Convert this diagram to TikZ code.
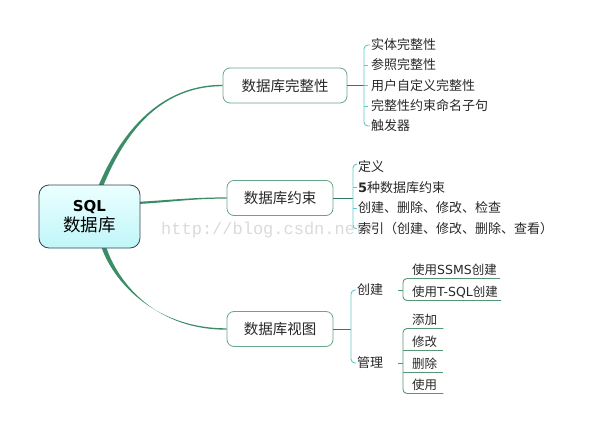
\documentclass[tikz,border=0pt]{standalone}
\usepackage{fontspec}
\setmainfont{Noto Sans CJK SC}
\newfontfamily\latinf{DejaVu Sans}
\newfontfamily\wmf{Liberation Mono}
\usetikzlibrary{calc,backgrounds}
\definecolor{branchc}{RGB}{61,140,104}
\definecolor{boxline}{RGB}{105,165,135}
\definecolor{linkc}{RGB}{45,125,95}
\definecolor{brkc}{RGB}{95,200,200}
\definecolor{ulc}{RGB}{85,150,118}
\definecolor{txt}{RGB}{40,40,40}
\definecolor{rootline}{RGB}{45,70,85}
\definecolor{rtop}{RGB}{235,255,255}
\definecolor{rbot}{RGB}{192,246,249}
\definecolor{wmc}{RGB}{218,218,218}
\begin{document}
\begin{tikzpicture}[x=1pt,y=-1pt,
  rootbox/.style={draw=rootline, line width=0.8pt, rounded corners=10pt,
    top color=rtop, bottom color=rbot, minimum width=101pt, minimum height=63pt,
    align=center, inner sep=0pt, text=black, font=\fontsize{17.5}{20}\selectfont},
  topic/.style={draw=boxline, line width=0.8pt, rounded corners=7pt, fill=white,
    text=txt, font=\fontsize{14.5}{16}\selectfont, minimum height=35pt, inner sep=0pt},
  leaf/.style={anchor=west, inner sep=0pt, text=txt, font=\fontsize{13}{15}\selectfont},
  leafs/.style={leaf, font=\fontsize{12.5}{14}\selectfont},
  brk/.style={draw=brkc, line width=0.9pt, rounded corners=4pt},
  lnk/.style={draw=linkc, line width=1pt},
  ul/.style={draw=ulc, line width=0.9pt, rounded corners=4pt},
  wm/.style={anchor=west, inner sep=0pt, text=wmc, font=\wmf\fontsize{17}{17}\selectfont}
]
\useasboundingbox (0,0) rectangle (603,434);

% nodes
\node[rootbox] (root) at (89.5,216.5) {{\latinf\bfseries\fontsize{15}{17}\selectfont SQL}\\数据库};
\node[topic, minimum width=124pt] (b1) at (285,85.5) {数据库完整性};
\node[topic, minimum width=106pt] (b2) at (280,198) {数据库约束};
\node[topic, minimum width=106pt] (b3) at (280,329) {数据库视图};

\node[leaf] (c11) at (371,45) {实体完整性};
\node[leaf] (c12) at (371,65) {参照完整性};
\node[leaf] (c13) at (371,85.5) {用户自定义完整性};
\node[leaf] (c14) at (371,106) {完整性约束命名子句};
\node[leaf] (c15) at (371,126) {触发器};

\node[leaf] (c21) at (358,167) {定义};
\node[leaf] (c22) at (358,187.5) {{\latinf\bfseries 5}种数据库约束};
\node[leaf] (c23) at (358,208) {创建、删除、修改、检查};
\node[leaf] (c24) at (358,229) {索引（创建、修改、删除、查看）};

\node[leaf] (c31) at (357,290) {创建};
\node[leaf] (c32) at (357,363) {管理};

\node[leafs] (d11) at (412,270) {使用{\latinf SSMS}创建};
\node[leafs] (d12) at (412,292) {使用{\latinf T-SQL}创建};
\node[leafs] (d21) at (412,320) {添加};
\node[leafs] (d22) at (412,342) {修改};
\node[leafs] (d23) at (412,363.5) {删除};
\node[leafs] (d24) at (412,385) {使用};

\begin{scope}[on background layer]
\node[wm] (wmark) at (161,230) {http://blog.csdn.net/};

% main tapered branches
\coordinate (s1) at ($(root.north)+(11,2)$);
\coordinate (e1) at (b1.west);
\fill[branchc] ($(s1)+(-2.4,0)$) .. controls ($(s1)+(13.1,-37)$) and ($(e1)+(-73,-0.7)$) .. ($(e1)+(0,-0.7)$)
  -- ($(e1)+(0,0.7)$) .. controls ($(e1)+(-73,0.7)$) and ($(s1)+(17.9,-37)$) .. ($(s1)+(2.4,0)$) -- cycle;

\coordinate (s2) at ($(root.east)+(-4,-13.5)$);
\coordinate (e2) at (b2.west);
\fill[branchc] ($(s2)+(0,-1.1)$) .. controls ($(s2)+(35,-3)$) and ($(e2)+(-35,-0.6)$) .. ($(e2)+(0,-0.6)$)
  -- ($(e2)+(0,0.6)$) .. controls ($(e2)+(-35,0.6)$) and ($(s2)+(35,-0.8)$) .. ($(s2)+(0,1.1)$) -- cycle;

\coordinate (s3) at ($(root.south)+(13.5,-4)$);
\coordinate (e3) at (b3.west);
\fill[branchc] ($(s3)+(-2.4,0)$) .. controls ($(s3)+(6.6,31)$) and ($(e3)+(-77,-0.7)$) .. ($(e3)+(0,-0.7)$)
  -- ($(e3)+(0,0.7)$) .. controls ($(e3)+(-77,0.7)$) and ($(s3)+(11.4,31)$) .. ($(s3)+(2.4,0)$) -- cycle;
\end{scope}

% box 1 children
\draw[lnk] (b1.east) -- ($(b1.east -| c13.west)+(-7,0)$);
\draw[brk] ($(c11.west)+(-1,0)$) -| ($(c15.west)+(-7,0)$) -- ($(c15.west)+(-1,0)$);
\foreach \n in {c12,c13,c14} \draw[brkc, line width=0.9pt] ($(\n.west)+(-7,0)$) -- ++(4,0);

% box 2 children
\draw[lnk] (b2.east) -- ($(b2.east -| c21.west)+(-5,0)$);
\draw[brk] ($(c21.west)+(-1,-3)$) -| ($(c24.west)+(-5,0)$) -- ($(c24.west)+(-1,0)$);
\foreach \n in {c22,c23} \draw[brkc, line width=0.9pt] ($(\n.west)+(-5,0)$) -- ++(3.5,0);

% box 3 children
\draw[lnk] (b3.east) -- ($(b3.east -| c31.west)+(-6,0)$);
\draw[brk] ($(c31.west)+(-1,0)$) -| ($(c32.west)+(-6,0)$) -- ($(c32.west)+(-1,0)$);

% third level: create
\draw[ul] ($(d11.east)+(3,8.5)$) -- ($(d11.west)+(-9,8.5)$) -- ($(d12.west)+(-9,8.5)$) -- ($(d12.east)+(3,8.5)$);
\draw[ulc, line width=0.9pt] ($(d11.west |- c31.west)+(-14,0)$) -- ++(5,0);

% third level: manage
\draw[ul] ($(d21.east)+(6,8.5)$) -- ($(d21.west)+(-9,8.5)$) -- ($(d24.west)+(-9,8.5)$) -- ($(d24.east)+(6,8.5)$);
\draw[ulc, line width=0.9pt] ($(d22.west)+(-9,8.5)$) -- ($(d22.east)+(6,8.5)$);
\draw[ulc, line width=0.9pt] ($(d23.west)+(-9,8.5)$) -- ($(d23.east)+(6,8.5)$);
\draw[ulc, line width=0.9pt] ($(d11.west |- c32.west)+(-14,0)$) -- ++(5,0);
\end{tikzpicture}
\end{document}
